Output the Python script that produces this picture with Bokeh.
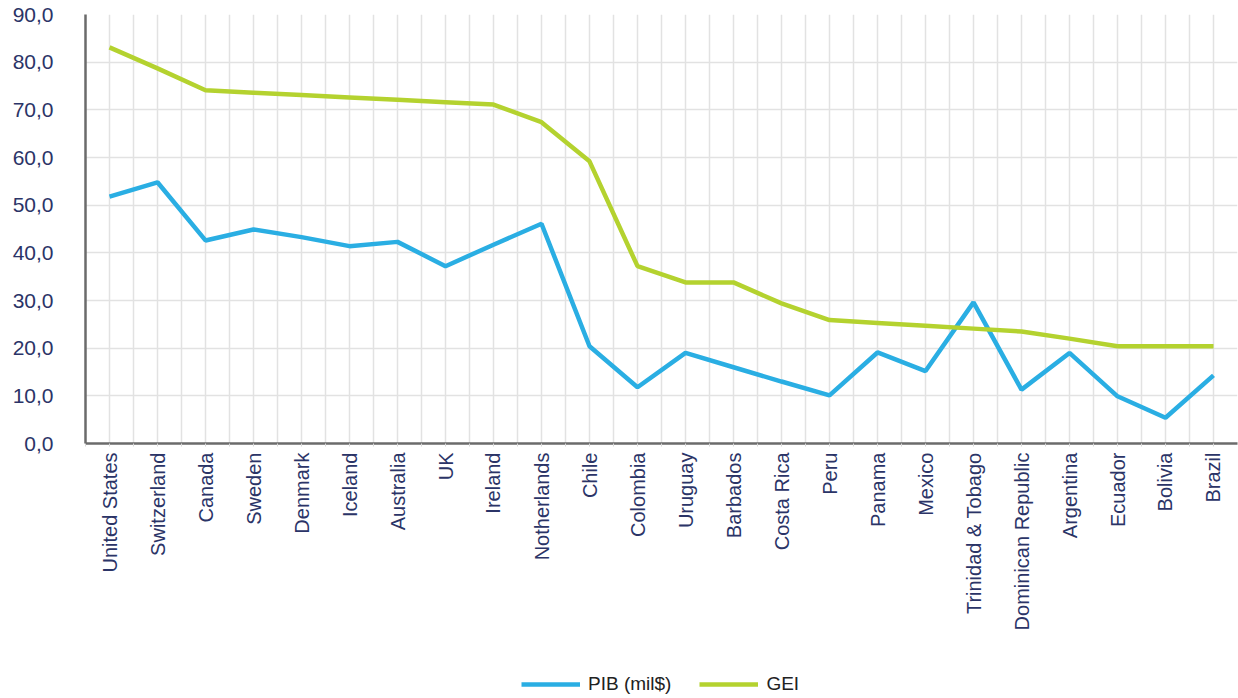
from bokeh.plotting import figure
from bokeh.layouts import column
from bokeh.models import (Range1d, FixedTicker, Legend, LegendItem, ColumnDataSource, Grid)
from bokeh.embed import file_html
from bokeh.resources import INLINE

countries = ["United States", "Switzerland", "Canada", "Sweden", "Denmark", "Iceland",
             "Australia", "UK", "Ireland", "Notherlands", "Chile", "Colombia", "Uruguay",
             "Barbados", "Costa Rica", "Peru", "Panama", "Mexico", "Trinidad & Tobago",
             "Dominican Republic", "Argentina", "Ecuador", "Bolivia", "Brazil"]
pib = [51.8, 54.8, 42.6, 44.9, 43.3, 41.4, 42.3, 37.2, 41.7, 46.1, 20.4, 11.8, 19.0,
       16.0, 13.0, 10.1, 19.1, 15.2, 29.6, 11.3, 19.0, 9.9, 5.4, 14.3]
gei = [83.1, 78.7, 74.1, 73.6, 73.1, 72.6, 72.1, 71.6, 71.1, 67.4, 59.2, 37.2, 33.8,
       33.8, 29.4, 25.9, 25.3, 24.7, 24.1, 23.5, 22.0, 20.4, 20.4, 20.4]
series_names = ["PIB (mil$)", "GEI"]
y_ticks = [0, 10, 20, 30, 40, 50, 60, 70, 80, 90]
y_labels = ["0,0", "10,0", "20,0", "30,0", "40,0", "50,0", "60,0", "70,0", "80,0", "90,0"]

blue = "#2AAEE3"
green = "#B4D22F"
navy = "#2B3467"
lab_font = "Liberation Sans"

idx = list(range(len(countries)))
src = ColumnDataSource(dict(x=idx, pib=pib, gei=gei))

p = figure(frame_width=1152, frame_height=429, output_backend="svg", toolbar_location=None,
           x_range=Range1d(-0.5, len(countries) - 0.5), y_range=Range1d(0, 90),
           min_border_left=85, min_border_right=1, min_border_top=14, min_border_bottom=200)
p.outline_line_color = None
p.background_fill_color = "white"

# grids
p.xgrid.visible = False
p.ygrid.visible = False
half = [i * 0.5 - 0.5 for i in range(2 * len(countries) + 1)]
p.add_layout(Grid(dimension=0, ticker=FixedTicker(ticks=half), grid_line_color="#E2E2E2",
                  grid_line_width=1.5))
p.add_layout(Grid(dimension=1, ticker=FixedTicker(ticks=y_ticks), grid_line_color="#E2E2E2",
                  grid_line_width=1.5))

# axes
p.xaxis.ticker = FixedTicker(ticks=idx, minor_ticks=[i + 0.5 for i in idx[:-1]] + [-0.5])
p.xaxis.major_label_overrides = {i: c for i, c in enumerate(countries)}
p.xaxis.major_label_orientation = 1.5707963
p.xaxis.major_label_text_font = lab_font
p.xaxis.major_label_text_font_size = "20px"
p.xaxis.major_label_text_color = navy
p.xaxis.major_label_standoff = 6
p.xaxis.axis_line_color = "#6B6B6B"
p.xaxis.axis_line_width = 2.5
p.xaxis.major_tick_line_color = "#D8D8D8"
p.xaxis.major_tick_out = 3
p.xaxis.major_tick_in = 0
p.xaxis.minor_tick_line_color = "#D8D8D8"
p.xaxis.minor_tick_out = 3
p.xaxis.minor_tick_in = 0

p.yaxis.ticker = FixedTicker(ticks=y_ticks)
p.yaxis.major_label_overrides = {t: l for t, l in zip(y_ticks, y_labels)}
p.yaxis.major_label_text_font = lab_font
p.yaxis.major_label_text_font_size = "21px"
p.yaxis.major_label_text_color = navy
p.yaxis.major_label_standoff = 26
p.yaxis.axis_line_color = "#6B6B6B"
p.yaxis.axis_line_width = 2.5
p.yaxis.major_tick_line_color = None
p.yaxis.minor_tick_line_color = None

p.line("x", "pib", source=src, line_color=blue, line_width=4.5)
p.line("x", "gei", source=src, line_color=green, line_width=4.5)

# legend strip under the chart (helper renderers hold no visible data)
lg = figure(width=1238, height=55, output_backend="svg", toolbar_location=None,
            x_axis_type=None, y_axis_type=None, x_range=Range1d(0, 1), y_range=Range1d(0, 1),
            min_border_left=0, min_border_right=0, min_border_top=0, min_border_bottom=0)
lg.outline_line_color = None
lg.grid.visible = False
nan = float("nan")
l1 = lg.line(x=[nan], y=[nan], line_color=blue, line_width=4.5)
l2 = lg.line(x=[nan], y=[nan], line_color=green, line_width=4.5)
legend = Legend(items=[LegendItem(label=series_names[0], renderers=[l1]),
                       LegendItem(label=series_names[1], renderers=[l2])],
                orientation="horizontal", location=(436, 3),
                label_text_font=lab_font, label_text_font_size="19px",
                label_text_color="#222222", glyph_width=59, glyph_height=20,
                spacing=28, label_standoff=8, border_line_color=None,
                background_fill_alpha=0, margin=0, padding=0)
lg.add_layout(legend, "center")

layout = column(p, lg, spacing=0)
open("out.html", "w").write(file_html(layout, INLINE))
